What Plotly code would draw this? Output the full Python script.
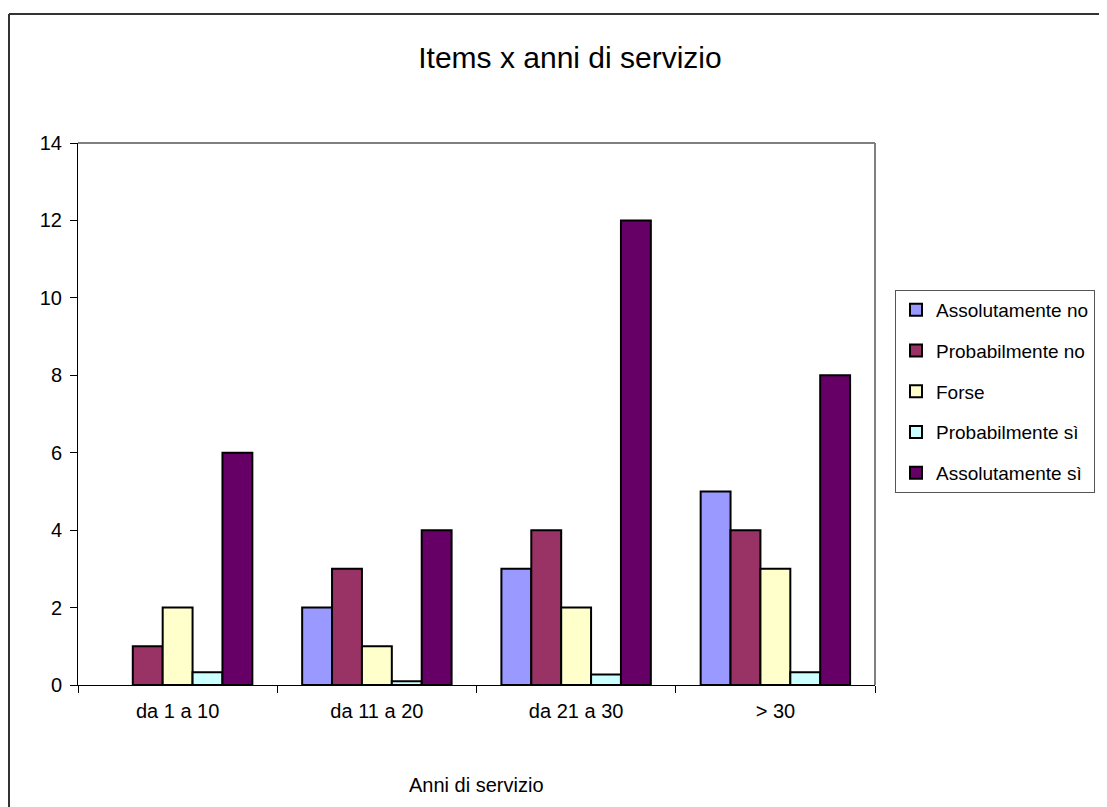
import plotly.graph_objects as go

categories = ["da 1 a 10", "da 11 a 20", "da 21 a 30", "> 30"]
series_names = ["Assolutamente no", "Probabilmente no", "Forse", "Probabilmente sì", "Assolutamente sì"]
assolutamente_no = [None, 2, 3, 5]
probabilmente_no = [1, 3, 4, 4]
forse = [2, 1, 2, 3]
probabilmente_si = [0.33, 0.1, 0.27, 0.33]
assolutamente_si = [6, 4, 12, 8]
series_values = [assolutamente_no, probabilmente_no, forse, probabilmente_si, assolutamente_si]
colors = ["#9999FF", "#993366", "#FFFFCC", "#CCFFFF", "#660066"]

OFF = 8  # page body margin
W, H = 1107 - OFF, 807 - OFF
# plot area in reference (screen) pixels
L, R, T, B = 78, 875, 143, 685
pw, ph = R - L, B - T

def px(x):
    return (x - L) / pw

def py(y):
    return (B - y) / ph

FONT = "Liberation Sans, Arial, sans-serif"

fig = go.Figure()
for i, (name, vals, col) in enumerate(zip(series_names, series_values, colors)):
    fig.add_trace(go.Bar(
        x=categories, y=vals, name=name, legendgroup=f"g{i}",
        marker=dict(color=col, line=dict(color="black", width=2)),
    ))

fig.update_layout(
    width=W, height=H,
    margin=dict(l=L - OFF, r=1107 - R, t=T - OFF, b=807 - B, pad=0),
    paper_bgcolor="white", plot_bgcolor="white",
    barmode="group", bargap=0.25, bargroupgap=0,
    font=dict(family=FONT, size=20, color="black"),
    title=dict(text="Items x anni di servizio", font=dict(size=30, family=FONT, color="black"),
               xref="container", yref="container", x=(570 - OFF) / W, y=1 - (57 - OFF) / H,
               xanchor="center", yanchor="middle"),
    showlegend=True,
    legend=dict(x=px(895), y=py(290), xanchor="left", yanchor="top",
                bordercolor="#555555", borderwidth=1, bgcolor="white",
                font=dict(size=19, family=FONT), traceorder="grouped",
                tracegroupgap=13),
    xaxis=dict(showline=True, linecolor="black", linewidth=1, ticks="outside",
               tickson="boundaries", ticklen=7, tickcolor="black", showgrid=False,
               tickfont=dict(size=20), ticklabelstandoff=8),
    yaxis=dict(range=[0, 14], dtick=2, showline=True, linecolor="black", linewidth=1,
               ticks="outside", ticklen=7, tickcolor="black", showgrid=False,
               zeroline=False, tickfont=dict(size=20), ticklabelstandoff=4),
)

fig.add_annotation(text="Anni di servizio", xref="paper", yref="paper",
                   x=px(476), y=py(785), showarrow=False,
                   xanchor="center", yanchor="middle", font=dict(size=20, family=FONT))

# plot area gray top/right border
fig.add_shape(type="line", xref="paper", yref="paper", x0=0, x1=1, y0=1, y1=1,
              line=dict(color="#808080", width=2))
fig.add_shape(type="line", xref="paper", yref="paper", x0=1, x1=1, y0=0, y1=1,
              line=dict(color="#808080", width=2))
# outer chart border (top and left visible)
fig.add_shape(type="line", xref="paper", yref="paper", x0=px(9), x1=px(1110), y0=py(14), y1=py(14),
              line=dict(color="#333333", width=2))
fig.add_shape(type="line", xref="paper", yref="paper", x0=px(9), x1=px(9), y0=py(14), y1=py(810),
              line=dict(color="#333333", width=2))

fig.write_html("out.html")
